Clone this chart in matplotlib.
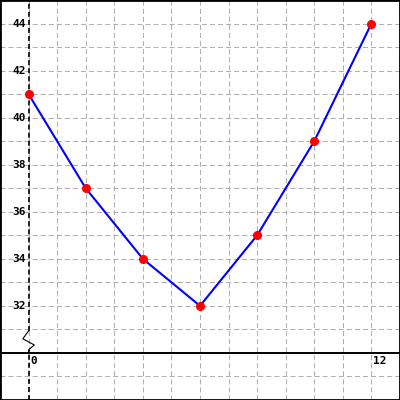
import matplotlib
matplotlib.use("Agg")
import matplotlib.pyplot as plt

# datos
x_vals = [0, 2, 4, 6, 8, 10, 12]
y_vals = [41, 37, 34, 32, 35, 39, 44]
y_labels = [32, 34, 36, 38, 40, 42, 44]
x_labels = [0, 12]

plt.rcParams["lines.scale_dashes"] = False

fig = plt.figure(figsize=(4, 4), dpi=100)
ax = fig.add_axes([0, 0, 1, 1])
ax.set_xlim(-0.98, 12.97)
ax.set_ylim(28, 45)

# grilla punteada cada 1 unidad
ax.set_xticks(range(-1, 14))
ax.set_yticks(range(28, 46))
ax.tick_params(length=0, labelbottom=False, labelleft=False)
ax.grid(True, color="#b0b0b0", linewidth=0.75, linestyle=(0, (3.6, 2.2)))
ax.set_axisbelow(True)
for s in ax.spines.values():
    s.set_linewidth(2)
    s.set_color("black")

# eje x (en y=30, con corte)
ax.axhline(30, color="black", linewidth=1.4, zorder=2)
# eje y punteado y el zigzag del corte
ax.plot([0, 0], [30.94, 45], color="black", linewidth=1.2, linestyle=(0, (3.6, 2.2)), zorder=2)
ax.plot([0, 0], [28, 30.13], color="black", linewidth=1.2, linestyle=(0, (3.6, 2.2)), zorder=2)
ax.plot([0, -0.2, 0.2, 0, 0], [30.94, 30.6, 30.34, 30.13, 30], color="black", linewidth=0.8, zorder=2)

# linea y puntos
ax.plot(x_vals, y_vals, color="blue", linewidth=1.5, zorder=3)
ax.plot(x_vals, y_vals, "o", color="red", markersize=5.5, zorder=4)

# etiquetas
for yl in y_labels:
    ax.text(-0.08, yl, str(yl), ha="right", va="center", fontsize=8,
            fontweight="bold", family="DejaVu Sans Mono")
for xl in x_labels:
    ax.text(xl + 0.06, 29.87, str(xl), ha="left", va="top", fontsize=8,
            fontweight="bold", family="DejaVu Sans Mono")

fig.savefig("out.png", dpi=100)
